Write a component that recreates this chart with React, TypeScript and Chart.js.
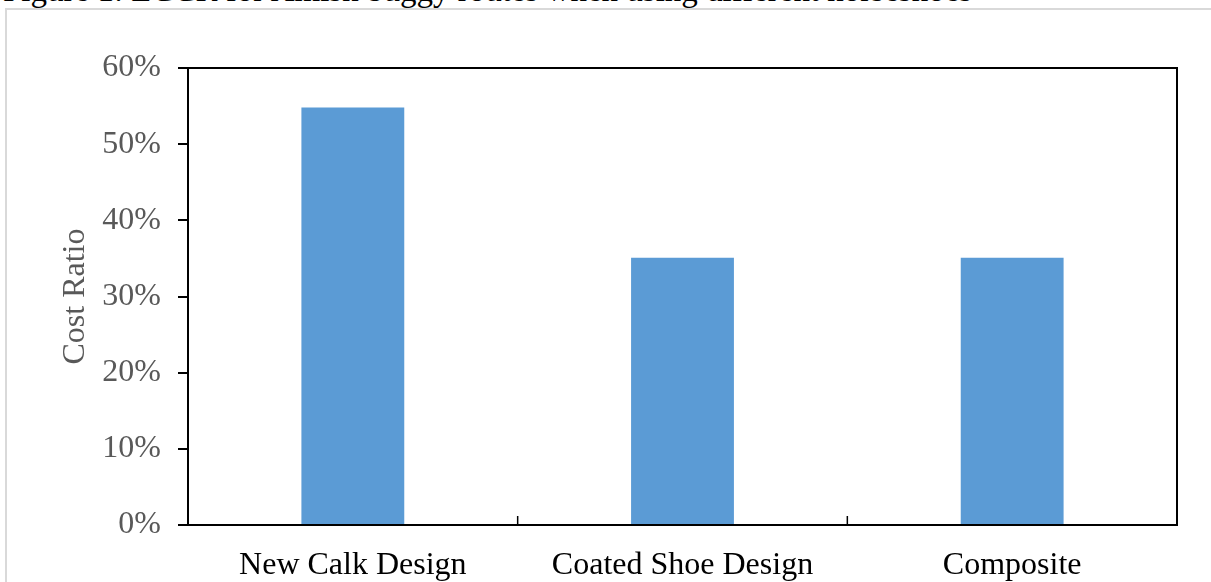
import React, { useEffect, useRef } from "react";
import { Chart, registerables } from "chart.js";

Chart.register(...registerables);

const categories = ["New Calk Design", "Coated Shoe Design", "Composite"];
const costRatio = [0.548, 0.351, 0.351];
const yTicks = [0, 0.1, 0.2, 0.3, 0.4, 0.5, 0.6];
const yAxisTitle = "Cost Ratio";
const caption = "Figure 1: LCCR for Amish buggy routes when using different horseshoes";

const FONT = "'Liberation Serif', 'Times New Roman', serif";

const framePlugin = {
  id: "plotFrame",
  afterDraw(chart: any) {
    const { ctx, chartArea } = chart;
    const xs = chart.scales.x;
    ctx.save();
    ctx.strokeStyle = "#000";
    ctx.lineWidth = 2;
    ctx.strokeRect(chartArea.left, chartArea.top, chartArea.right - chartArea.left, chartArea.bottom - chartArea.top);
    // inward tick marks between categories
    ctx.lineWidth = 1.5;
    for (let i = 0; i < categories.length - 1; i++) {
      const px = (xs.getPixelForValue(i) + xs.getPixelForValue(i + 1)) / 2;
      ctx.beginPath();
      ctx.moveTo(px, chartArea.bottom);
      ctx.lineTo(px, chartArea.bottom - 9);
      ctx.stroke();
    }
    ctx.restore();
  },
};

export default function App() {
  const ref = useRef<HTMLCanvasElement | null>(null);

  useEffect(() => {
    if (!ref.current) return;
    const chart = new Chart(ref.current, {
      type: "bar",
      data: {
        labels: categories,
        datasets: [
          {
            data: costRatio,
            backgroundColor: "#5B9BD5",
            borderWidth: 0,
            categoryPercentage: 1,
            barPercentage: 0.312,
          },
        ],
      },
      options: {
        animation: false,
        responsive: false,
        devicePixelRatio: 1,
        layout: { padding: { left: 0, top: 68, right: 34, bottom: 0 } },
        plugins: {
          legend: { display: false },
          tooltip: { enabled: false },
        },
        scales: {
          x: {
            offset: true,
            grid: { display: false, drawTicks: false },
            border: { display: false },
            ticks: {
              color: "#000",
              font: { family: FONT, size: 32 },
              padding: 21,
              maxRotation: 0,
              autoSkip: false,
            },
            afterFit(scale: any) {
              scale.height = 57;
            },
          },
          y: {
            min: 0,
            max: 0.6,
            afterBuildTicks(scale: any) {
              scale.ticks = yTicks.map((v) => ({ value: v }));
            },
            grid: {
              display: true,
              drawOnChartArea: false,
              drawTicks: true,
              tickLength: 10,
              lineWidth: 2,
              color: "#000",
            },
            border: { display: false },
            ticks: {
              color: "#595959",
              font: { family: FONT, size: 32 },
              padding: 17,
              callback: (v: any) => Math.round(Number(v) * 100) + "%",
            },
            title: {
              display: true,
              text: yAxisTitle,
              color: "#595959",
              font: { family: FONT, size: 32 },
              padding: { top: 56, bottom: 0 },
            },
            afterFit(scale: any) {
              scale.width = 188;
            },
          },
        },
      },
      plugins: [framePlugin],
    });
    return () => chart.destroy();
  }, []);

  return (
    <div style={{ position: "fixed", left: 0, top: 0, width: 1211, height: 582, overflow: "hidden", background: "#fff" }}>
      <div
        style={{
          position: "absolute",
          left: 3,
          top: -26,
          fontFamily: FONT,
          fontSize: 33,
          lineHeight: "33px",
          whiteSpace: "nowrap",
          color: "#000",
        }}
      >
        {caption}
      </div>
      <div
        style={{
          position: "absolute",
          left: 5,
          top: 8,
          width: 1300,
          height: 700,
          border: "2px solid #d9d9d9",
        }}
      />
      <canvas
        ref={ref}
        width={1211}
        height={582}
        style={{ position: "absolute", left: 0, top: 0, width: 1211, height: 582 }}
      />
    </div>
  );
}
